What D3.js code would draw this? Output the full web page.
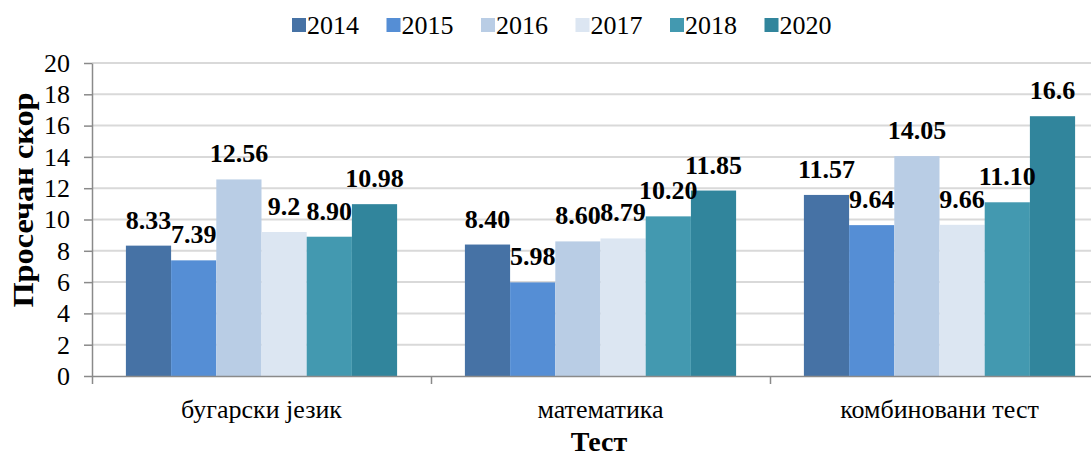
<!DOCTYPE html>
<html lang="sr">
<head>
    <meta charset="UTF-8">
    <title>Просечан скор по тесту</title>
    <script src="https://d3js.org/d3.v7.min.js" charset="utf-8"></script>
    <style>
        body { margin: 0; background: #fff; }
        svg text { fill: #000; }
        .axis path, .axis line { stroke: #8a8a8a; stroke-width: 1.5; }
        .grid line { stroke: #d9d9d9; stroke-width: 2; }
    </style>
</head>
<body>
    <div id="vis"></div>
    <script>

        // data
        var categories = ["бугарски језик", "математика", "комбиновани тест"];
        var years = ["2014", "2015", "2016", "2017", "2018", "2020"];
        var values2014 = [8.33, 8.40, 11.57];
        var values2015 = [7.39, 5.98, 9.64];
        var values2016 = [12.56, 8.60, 14.05];
        var values2017 = [9.2, 8.79, 9.66];
        var values2018 = [8.90, 10.20, 11.10];
        var values2020 = [10.98, 11.85, 16.6];
        // labels as printed on the chart
        var labels2014 = ["8.33", "8.40", "11.57"];
        var labels2015 = ["7.39", "5.98", "9.64"];
        var labels2016 = ["12.56", "8.60", "14.05"];
        var labels2017 = ["9.2", "8.79", "9.66"];
        var labels2018 = ["8.90", "10.20", "11.10"];
        var labels2020 = ["10.98", "11.85", "16.6"];
        var yTicks = [0, 2, 4, 6, 8, 10, 12, 14, 16, 18, 20];

        var colors = ["#4672a5", "#558ed5", "#b9cde5", "#dce6f2", "#4399b0", "#31859c"];

        var seriesValues = [values2014, values2015, values2016, values2017, values2018, values2020];
        var seriesLabels = [labels2014, labels2015, labels2016, labels2017, labels2018, labels2020];

        var FONT = "'Liberation Serif', Tinos, 'Times New Roman', 'DejaVu Serif', serif";

        var width = 1091;
        var height = 456;

        var margin = {
          top: 63,
          left: 92,
          right: -18,
          bottom: 80
        };

        var svg = d3.select("#vis")
            .append("svg")
            .attr("width", width)
            .attr("height", height)
            .attr("font-family", FONT);

        var g = svg.append("g")
            .attr("transform", "translate(" + margin.left + "," + margin.top + ")");

        var w = width - margin.left - margin.right;
        var h = height - margin.top - margin.bottom;

        var x0 = d3.scaleBand()
            .domain(categories)
            .range([0, w]);

        var x1 = d3.scaleBand()
            .domain(years)
            .range([0, x0.bandwidth()])
            .paddingInner(0)
            .paddingOuter(0.75);

        var y = d3.scaleLinear()
            .domain([0, 20])
            .range([h, 0]);

        // gridlines
        g.append("g")
            .attr("class", "grid")
            .selectAll("line")
            .data(yTicks.slice(1))
            .enter()
            .append("line")
            .attr("x1", 0)
            .attr("x2", w)
            .attr("y1", function(d){ return y(d); })
            .attr("y2", function(d){ return y(d); });

        // bars
        var rows = [];
        categories.forEach(function(c, ci){
            years.forEach(function(yr, si){
                rows.push({cat: c, year: yr, si: si, value: seriesValues[si][ci], label: seriesLabels[si][ci]});
            });
        });

        g.selectAll(".bar")
            .data(rows)
            .enter()
            .append("rect")
            .attr("class", "bar")
            .attr("x", function(d){ return x0(d.cat) + x1(d.year); })
            .attr("y", function(d){ return y(d.value); })
            .attr("width", x1.bandwidth())
            .attr("height", function(d){ return h - y(d.value); })
            .attr("fill", function(d){ return colors[d.si]; });

        // y axis
        var yAxis = g.append("g")
            .attr("class", "axis y")
            .call(d3.axisLeft(y).tickValues(yTicks).tickSize(8).tickPadding(14).tickSizeOuter(0));
        yAxis.attr("font-family", null).attr("font-size", null);
        yAxis.selectAll("text").style("font-family", FONT).style("font-size", "26px");

        // x axis line + boundary ticks
        var xb = d3.scaleLinear().domain([0, categories.length]).range([0, w]);
        g.append("g")
            .attr("class", "axis x")
            .attr("transform", "translate(0," + h + ")")
            .call(d3.axisBottom(xb).tickValues(d3.range(categories.length + 1)).tickFormat("").tickSize(8).tickSizeOuter(0));

        // category labels
        g.selectAll(".cat")
            .data(categories)
            .enter()
            .append("text")
            .attr("class", "cat")
            .attr("x", function(d){ return x0(d) + x0.bandwidth() / 2; })
            .attr("y", h + 42)
            .attr("text-anchor", "middle")
            .style("font-family", FONT)
            .style("font-size", "26px")
            .text(function(d){ return d; });

        // value labels
        g.selectAll(".label")
            .data(rows)
            .enter()
            .append("text")
            .attr("class", "label")
            .attr("x", function(d){ return x0(d.cat) + x1(d.year) + x1.bandwidth() / 2; })
            .attr("y", function(d){ return y(d.value) - 17; })
            .attr("text-anchor", "middle")
            .style("font-family", FONT)
            .style("font-size", "26px")
            .style("font-weight", "bold")
            .text(function(d){ return d.label; });

        // axis titles
        svg.append("text")
            .attr("x", 599)
            .attr("y", 451)
            .attr("text-anchor", "middle")
            .style("font-family", FONT)
            .style("font-size", "28px")
            .style("font-weight", "bold")
            .text("Тест");

        svg.append("text")
            .attr("transform", "translate(33,200) rotate(-90)")
            .attr("text-anchor", "middle")
            .attr("textLength", 215)
            .attr("lengthAdjust", "spacingAndGlyphs")
            .style("font-family", FONT)
            .style("font-size", "29px")
            .style("font-weight", "bold")
            .text("Просечан скор");

        // legend
        var legend = svg.append("g")
            .selectAll(".leg")
            .data(years)
            .enter()
            .append("g")
            .attr("class", "leg")
            .attr("transform", function(d, i){ return "translate(" + (292 + i * 94.5) + ",0)"; });

        legend.append("rect")
            .attr("x", 0)
            .attr("y", 18)
            .attr("width", 14)
            .attr("height", 14)
            .attr("fill", function(d, i){ return colors[i]; });

        legend.append("text")
            .attr("x", 15)
            .attr("y", 34)
            .style("font-family", FONT)
            .style("font-size", "26px")
            .text(function(d){ return d; });

    </script>
</body>
</html>
